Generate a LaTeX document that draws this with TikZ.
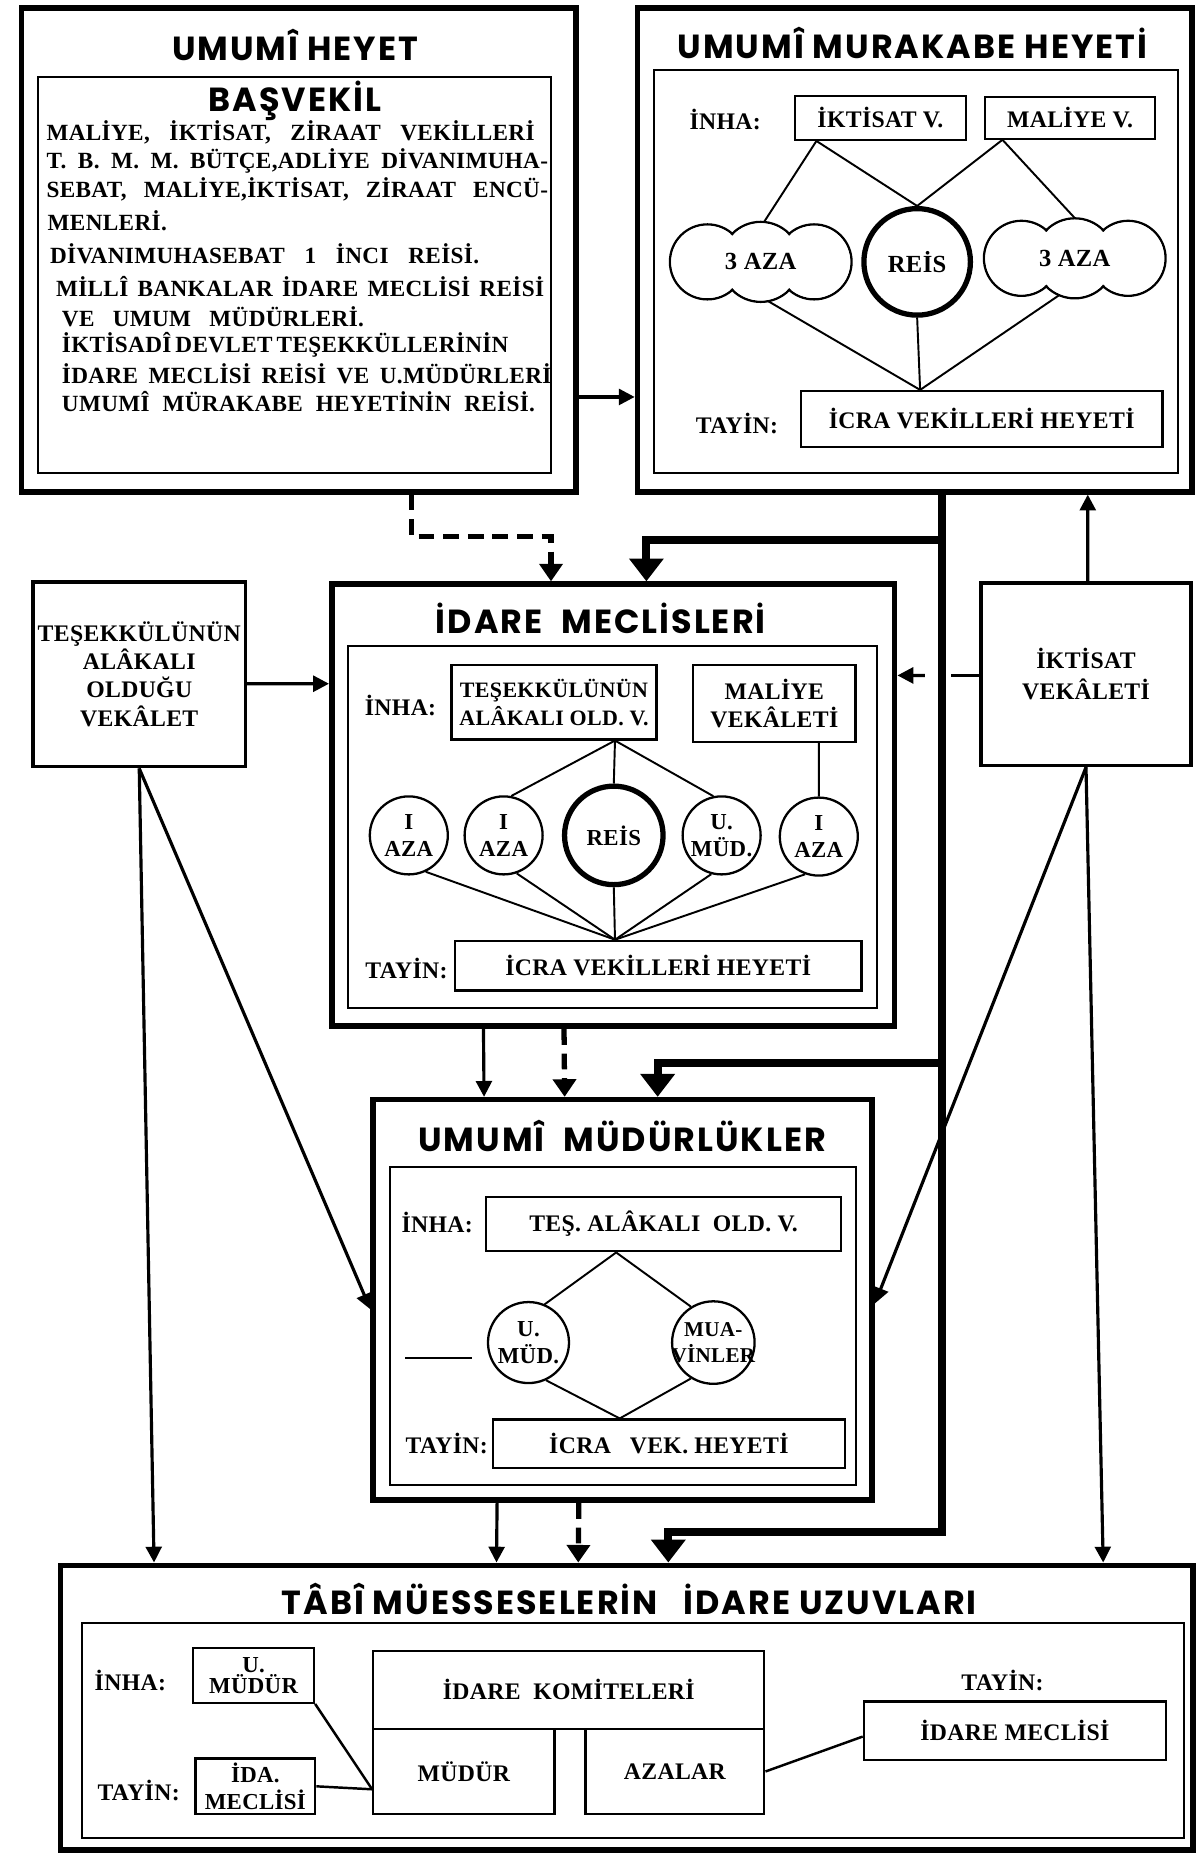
\documentclass[tikz,border=0pt]{standalone}
\usepackage{fontspec}
\setmainfont{Liberation Serif}[LetterSpace=1.5]
\newfontfamily\headfont{Poppins}[LetterSpace=6]
\usetikzlibrary{arrows.meta,fit,calc}

\tikzset{
  outerframe/.style={draw,line width=3.2pt,inner sep=0pt},
  panel/.style={draw,line width=1.1pt,inner sep=0pt},
  office/.style={draw,line width=1.3pt,inner sep=0pt},
  headline/.style={font=\headfont\bfseries\fontsize{19}{22}\selectfont},
  lbl/.style={font=\bfseries\fontsize{13.5}{16}\selectfont,align=center},
  heyetline/.style={anchor=west,inner sep=0pt,font=\bfseries\fontsize{13.2}{15}\selectfont},
  member/.style={draw,circle,line width=1.3pt,minimum size=1.56cm,inner sep=-5pt,align=center,font=\bfseries\fontsize{13}{15.5}\selectfont},
  chief/.style={member,line width=3pt,minimum size=1.97cm},
  tie/.style={line width=1.1pt},
  orderarrow/.style={line width=1.8pt,-{Triangle[length=9pt,width=9pt]}},
  proposalarrow/.style={line width=3pt,dash pattern=on 9pt off 5pt,-{Triangle[length=10pt,width=13pt]}},
  trunkline/.style={line width=4.5pt},
  controlarrow/.style={trunkline,-{Triangle[length=13pt,width=19pt]}},
}

\begin{document}
\begin{tikzpicture}[x=0.0237cm,y=-0.0237cm]
 \useasboundingbox (0,0) rectangle (1012,1568);

 % umumi heyet
 \node[outerframe,fit={(18,7) (486,415)}] (heyet) {};
 \node[panel,fit={(32,65) (465,399)}] (heyetin) {};
 \node[headline] (heyettitle) at (249,38) {UMUMÎ HEYET};
 \node[headline] (basvekil) at (249,85) {BAŞVEKİL};
 \node[heyetline] (hl1) at (39,112) {\makebox[9.76cm][s]{MALİYE, İKTİSAT, ZİRAAT VEKİLLERİ}};
 \node[heyetline] (hl2) at (39,136) {\makebox[10.03cm][s]{T. B. M. M. BÜTÇE,ADLİYE DİVANIMUHA-}};
 \node[heyetline] (hl3) at (39,160) {\makebox[10.03cm][s]{SEBAT, MALİYE,İKTİSAT, ZİRAAT ENCÜ-}};
 \node[heyetline] (hl4) at (40,186) {MENLERİ.};
 \node[heyetline] (hl5) at (42,214) {\makebox[8.58cm][s]{DİVANIMUHASEBAT 1 İNCI REİSİ.}};
 \node[heyetline] (hl6) at (47,242) {\makebox[9.76cm][s]{MİLLÎ BANKALAR İDARE MECLİSİ REİSİ}};
 \node[heyetline] (hl7) at (52,267) {\makebox[6.04cm][s]{VE UMUM MÜDÜRLERİ.}};
 \node[heyetline] (hl8) at (52,291) {\makebox[8.86cm][s]{İKTİSADÎ DEVLET TEŞEKKÜLLERİNİN}};
 \node[heyetline] (hl9) at (52,315) {\makebox[9.79cm][s]{İDARE MECLİSİ REİSİ VE U.MÜDÜRLERİ}};
 \node[heyetline] (hl10) at (52,339) {\makebox[9.46cm][s]{UMUMÎ MÜRAKABE HEYETİNİN REİSİ.}};

 % umumi murakabe heyeti
 \node[outerframe,fit={(538,7) (1006,415)}] (murakabe) {};
 \node[panel,fit={(552,59) (994,399)}] (murakabein) {};
 \node[headline] (murakabetitle) at (770,36) {UMUMÎ MURAKABE HEYETİ};
 \node[lbl] (minha) at (612,101) {İNHA:};
 \node[office,fit={(671,81) (815,118)},label={[lbl]center:İKTİSAT V.}] (miktisat) {};
 \node[office,fit={(831,82) (975,117)},label={[lbl]center:MALİYE V.}] (mmaliye) {};
 \foreach \cx/\cy in {642/221,907/218}{
  \draw[line width=1.3pt] (\cx-45,\cy) circle (0.75cm) (\cx,\cy) circle (0.8cm) (\cx+45,\cy) circle (0.75cm);
  \fill[white] (\cx-45,\cy) circle (0.72cm) (\cx,\cy) circle (0.77cm) (\cx+45,\cy) circle (0.72cm);
 }
 \node[lbl,font=\bfseries\fontsize{14}{16}\selectfont] (maza1) at (642,221) {3 AZA};
 \node[lbl,font=\bfseries\fontsize{14}{16}\selectfont] (maza2) at (907,218) {3 AZA};
 \node[chief,minimum size=2.13cm,font=\bfseries\fontsize{14}{16}\selectfont] (mreis) at (774,221) {REİS};
 \node[lbl] (mtayin) at (622,357) {TAYİN:};
 \node[office,fit={(676,330) (981,377)},label={[lbl]center:İCRA VEKİLLERİ HEYETİ}] (micra) {};
 \coordinate (mjoin) at ($(micra.north)+(-52,0)$);
 \draw[tie] ($(miktisat.south)+(-54,0)$) -- ($(maza1)+(3,-34)$);
 \draw[tie] ($(miktisat.south)+(-54,0)$) -- (mreis.north);
 \draw[tie] ($(mmaliye.south)+(-57,0)$) -- (mreis.north);
 \draw[tie] ($(mmaliye.south)+(-57,0)$) -- ($(maza2)+(0,-34)$);
 \draw[tie] ($(maza1)+(6,33)$) -- (mjoin);
 \draw[tie] (mreis.south) -- (mjoin);
 \draw[tie] ($(maza2)+(-13,31)$) -- (mjoin);

 % vekaletler
 \node[office,line width=2pt,fit={(28,491) (207,647)},label={[lbl]center:TEŞEKKÜLÜNÜN\\ALÂKALI\\OLDUĞU\\VEKÂLET}] (tesvek) {};
 \node[office,line width=2pt,fit={(828,492) (1005,646)},label={[lbl,font=\bfseries\fontsize{13.5}{17.5}\selectfont]center:İKTİSAT\\VEKÂLETİ}] (iktvek) {};

 % idare meclisleri
 \node[outerframe,fit={(280,493) (755,866)}] (idare) {};
 \node[panel,fit={(294,545) (740,851)}] (idarein) {};
 \node[headline] (idaretitle) at (507,522) {İDARE\hspace{0.3em} MECLİSLERİ};
 \node[lbl] (iinha) at (338,595) {İNHA:};
 \node[office,fit={(381,561) (554,624)},label={[lbl,font=\bfseries\fontsize{12.5}{16}\selectfont]center:TEŞEKKÜLÜNÜN\\ALÂKALI OLD. V.}] (iteskv) {};
 \node[office,fit={(585,561) (722,626)},label={[lbl]center:MALİYE\\VEKÂLETİ}] (imaliye) {};
 \node[member] (iaza1) at (345,705) {I\\AZA};
 \node[member] (iaza2) at (425,705) {I\\AZA};
 \node[chief] (ireis) at (518,705) {REİS};
 \node[member] (imud) at (609,705) {U.\\MÜD.};
 \node[member] (iaza3) at (691,706) {I\\AZA};
 \node[lbl] (itayin) at (343,817) {TAYİN:};
 \node[office,fit={(384,794) (727,836)},label={[lbl]center:İCRA\ VEKİLLERİ\ HEYETİ}] (iicra) {};
 \coordinate (ijoin) at ($(iicra.north)+(-36.5,0)$);
 \draw[tie] ($(iteskv.south)+(51.5,0)$) -- (iaza2.79);
 \draw[tie] ($(iteskv.south)+(51.5,0)$) -- (ireis.north);
 \draw[tie] ($(iteskv.south)+(51.5,0)$) -- (imud.102);
 \draw[tie] ($(imaliye.south)+(37.5,0)$) -- (iaza3.north);
 \foreach \n/\a in {iaza1/-65,iaza2/-71,ireis/-90,imud/-105,iaza3/-110}
  \draw[tie] (\n.\a) -- (ijoin);

 % umumi mudurlukler
 \node[outerframe,fit={(315,928) (736,1266)}] (mudur) {};
 \node[panel,fit={(329,985) (722,1253)}] (mudurin) {};
 \node[headline] (mudurtitle) at (525,959) {UMUMÎ\hspace{0.3em} MÜDÜRLÜKLER};
 \node[lbl] (uinha) at (369,1032) {İNHA:};
 \node[office,fit={(410,1010) (710,1056)},label={[lbl]center:TEŞ. ALÂKALI\ \ OLD. V.}] (uteskv) {};
 \node[member,minimum size=1.62cm] (umud) at (446,1133) {U.\\MÜD.};
 \node[member,minimum size=1.65cm,font=\bfseries\fontsize{12}{15}\selectfont] (umuavin) at (602,1133) {MUA-\\VİNLER};
 \node[lbl] (utayin) at (377,1218) {TAYİN:};
 \node[office,fit={(416,1198) (713,1239)},label={[lbl]center:İCRA\ \ \ VEK. HEYETİ}] (uicra) {};
 \coordinate (ujoin) at ($(uicra.north)+(-41.5,0)$);
 \draw[tie] (342,1146) -- (398,1146);
 \draw[tie] ($(uteskv.south)+(-40,0)$) -- (umud.67);
 \draw[tie] ($(uteskv.south)+(-40,0)$) -- (umuavin.122);
 \draw[tie] (umud.-65) -- (ujoin);
 \draw[tie] (umuavin.-122) -- (ujoin);

 % tabi muesseseler
 \node[outerframe,fit={(51,1321) (1007,1561)}] (tabi) {};
 \node[panel,fit={(69,1370) (999,1551)}] (tabiin) {};
 \node[headline] (tabititle) at (531,1349) {TÂBÎ MÜESSESELERİN\hspace{0.5em} İDARE UZUVLARI};
 \node[lbl] (tinha) at (110,1418) {İNHA:};
 \node[office,fit={(163,1391) (265,1437)},label={[lbl,font=\bfseries\fontsize{13}{10.5}\selectfont]center:U.\\MÜDÜR}] (tumudur) {};
 \node[lbl] (ttayin) at (117,1511) {TAYİN:};
 \node[office,fit={(165,1484) (266,1531)},label={[lbl,font=\bfseries\fontsize{13}{15}\selectfont]center:İDA.\\MECLİSİ}] (tidamec) {};
 \node[office,fit={(315,1393) (645,1459)},label={[lbl]center:İDARE\ \ KOMİTELERİ}] (tkomite) {};
 \node[office,fit={(315,1459) (468,1531)},label={[lbl]center:MÜDÜR}] (tmudur) {};
 \node[office,fit={(494,1459) (645,1531)},label={[lbl]center:AZALAR}] (tazalar) {};
 \node[lbl] (ttayin2) at (846,1418) {TAYİN:};
 \node[office,fit={(729,1436) (984,1485)},label={[lbl]center:İDARE\ MECLİSİ}] (tidare) {};
 \draw[tie,line width=1.4pt] (tumudur.south east) -- ($(tmudur.west)+(0,15)$);
 \draw[tie,line width=1.4pt] (tidamec.east) -- ($(tmudur.west)+(0,15)$);
 \draw[tie,line width=1.4pt] (tazalar.east) -- ($(tidare.west)+(0,5)$);

 % baglantilar
 \draw[orderarrow] ($(heyet.east)+(0,124)$) -- ($(murakabe.west)+(0,124)$);
 \draw[proposalarrow] ($(heyet.south)+(95,0)$) |- ($(idare.north)+(-52.5,-38)$) -- ($(idare.north)+(-52.5,0)$);
 \coordinate (tk1) at (795,456);
 \coordinate (tk2) at (795,897);
 \coordinate (tk3) at (795,1293);
 \draw[controlarrow] ($(murakabe.south)+(23,0)$) -- (tk3) -| ($(tabi.north)+(35,0)$);
 \draw[controlarrow] (tk1) -| ($(idare.north)+(28,0)$);
 \draw[controlarrow] (tk2) -| ($(mudur.north)+(29.5,0)$);
 \draw[orderarrow] ($(tesvek.east)+(0,8)$) -- ($(idare.west)+(0,-102.5)$);
 \draw[orderarrow] ($(iktvek.north)+(1.5,0)$) -- ($(murakabe.south)+(146,0)$);
 \draw[orderarrow,-] ($(iktvek.west)+(0,1)$) -- ($(iktvek.west)+(-24,1)$);
 \draw[orderarrow] ($(iktvek.west)+(-46,1)$) -- ($(idare.east)+(0,-109.5)$);
 \draw[orderarrow] ($(idare.south)+(-109.5,0)$) -- ($(mudur.north)+(-117,0)$);
 \draw[proposalarrow] ($(idare.south)+(-41.5,0)$) -- ($(mudur.north)+(-49,0)$);
 \draw[orderarrow] ($(mudur.south)+(-106,0)$) -- ($(tabi.north)+(-110,0)$);
 \draw[proposalarrow] ($(mudur.south)+(-37,0)$) -- ($(tabi.north)+(-41,0)$);
 \draw[orderarrow] (tesvek.south) -- ($(tabi.north)+(-399,0)$);
 \draw[orderarrow] (tesvek.south) -- ($(mudur.west)+(0,8)$);
 \draw[orderarrow] (iktvek.south) -- ($(tabi.north)+(402,0)$);
 \draw[orderarrow] (iktvek.south) -- ($(mudur.east)+(0,3)$);
\end{tikzpicture}
\end{document}
